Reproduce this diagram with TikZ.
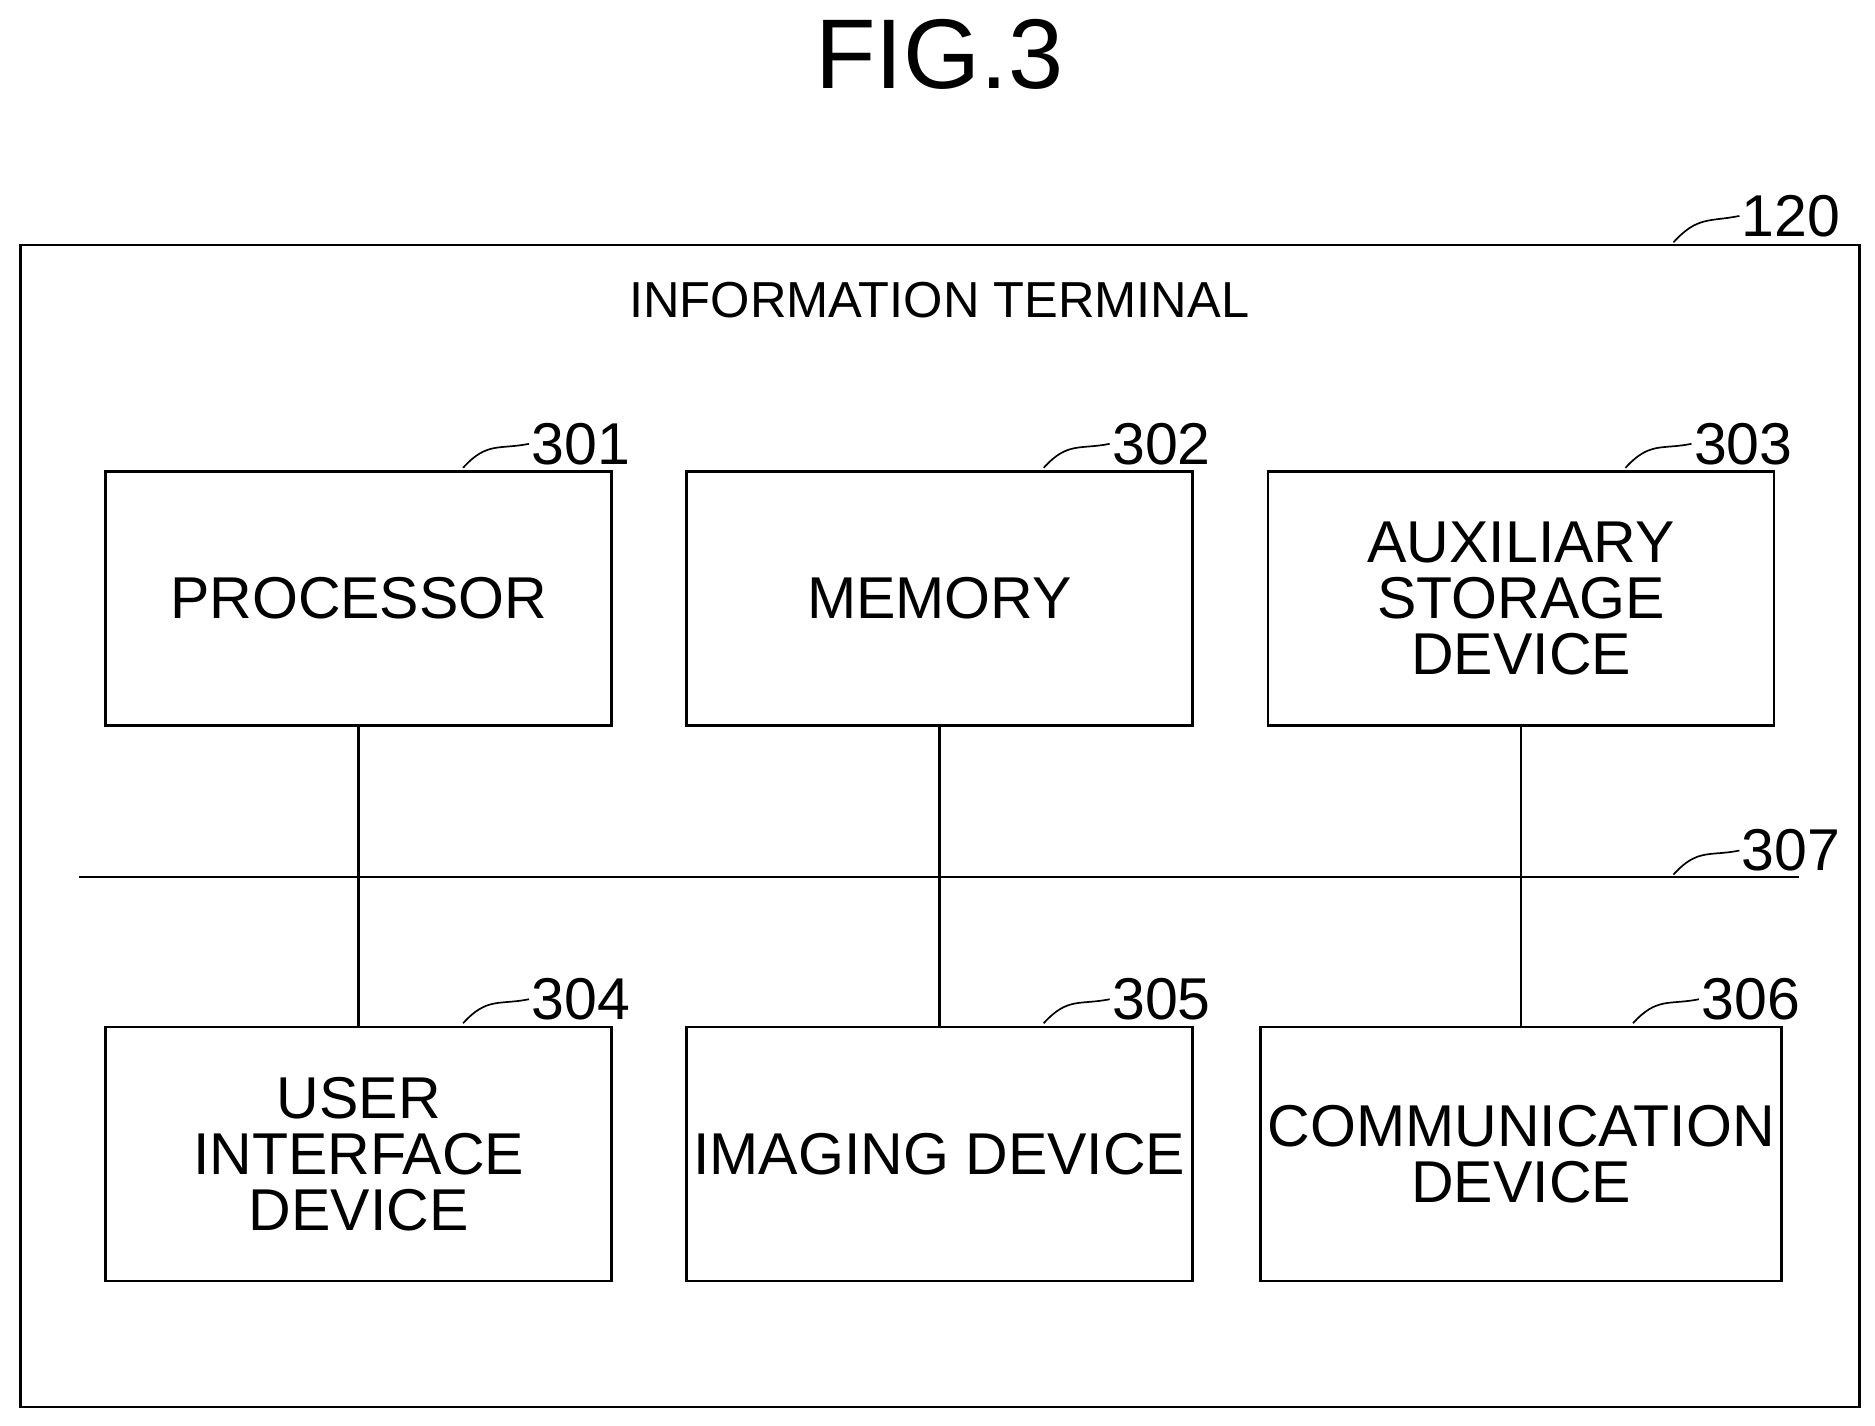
\documentclass[tikz,border=0pt]{standalone}
\usepackage{fontspec}
\setmainfont{Liberation Sans}
\usetikzlibrary{positioning}
\usetikzlibrary{calc}

\begin{document}
\begin{tikzpicture}[x=0.02cm, y=-0.02cm,
    block/.style={align=center, rectangle, draw=black, line width=1.2pt, minimum width=8.44cm, minimum height=4.24cm, font=\fontsize{28}{26.7}\selectfont},
    refnum/.style={anchor=west, inner sep=1pt, font=\fontsize{28}{30}\selectfont},
    leader/.style={line width=0.8pt}
]
    \useasboundingbox (0,0) rectangle (1563,1188);

    % Title
    \node[font=\fontsize{47}{50}\selectfont] (T1) at (783,45) {FIG.3};

    % Frame
    \node[draw, line width=1.2pt, minimum width=30.66cm, minimum height=19.38cm] (F) at (783.5,688.5) {};
    \node[font=\fontsize{24}{26}\selectfont] (FT) at (783,250) {INFORMATION TERMINAL};

    % Upper row
    \node[block] (B1) at (299,499) {PROCESSOR};
    \node[block] (B2) at (783,499) {MEMORY};
    \node[block] (B3) at (1268,499) {AUXILIARY\\STORAGE\\DEVICE};

    % Lower row
    \node[block] (B4) at (299,962) {USER\\INTERFACE\\DEVICE};
    \node[block] (B5) at (783,962) {IMAGING DEVICE};
    \node[block] (B6) at (1268,962) {COMMUNICATION\\DEVICE};

    % Bus
    \coordinate (L) at (66,731);
    \coordinate (R) at (1500,731);
    \draw[line width=1.2pt] (L) -- (R);
    \draw[line width=1.2pt] (B1.south) -- (B4.north);
    \draw[line width=1.2pt] (B2.south) -- (B5.north);
    \draw[line width=1.2pt] (B3.south) -- (B6.north);

    % Reference numerals
    \foreach \b/\n in {B1/301, B2/302, B3/303, B4/304, B5/305, B6/306} {
        \coordinate (S\b) at ($(\b.north east)+(-125,-2)$);
        \coordinate (E\b) at ($(\b.north east)+(-70,-22)$);
        \draw[leader] (S\b) .. controls ($(S\b)+(20,-22)$) and ($(E\b)+(-25,5)$) .. (E\b);
        \node[refnum] (N\b) at (E\b) {\n};
    }

    \coordinate (SF) at (1395,202);
    \coordinate (EF) at (1450,180);
    \draw[leader] (SF) .. controls ($(SF)+(20,-22)$) and ($(EF)+(-25,5)$) .. (EF);
    \node[refnum] (NF) at (EF) {120};

    \coordinate (SR) at (1395,729);
    \coordinate (ER) at (1450,709);
    \draw[leader] (SR) .. controls ($(SR)+(20,-22)$) and ($(ER)+(-25,5)$) .. (ER);
    \node[refnum] (NR) at (ER) {307};
\end{tikzpicture}
\end{document}
